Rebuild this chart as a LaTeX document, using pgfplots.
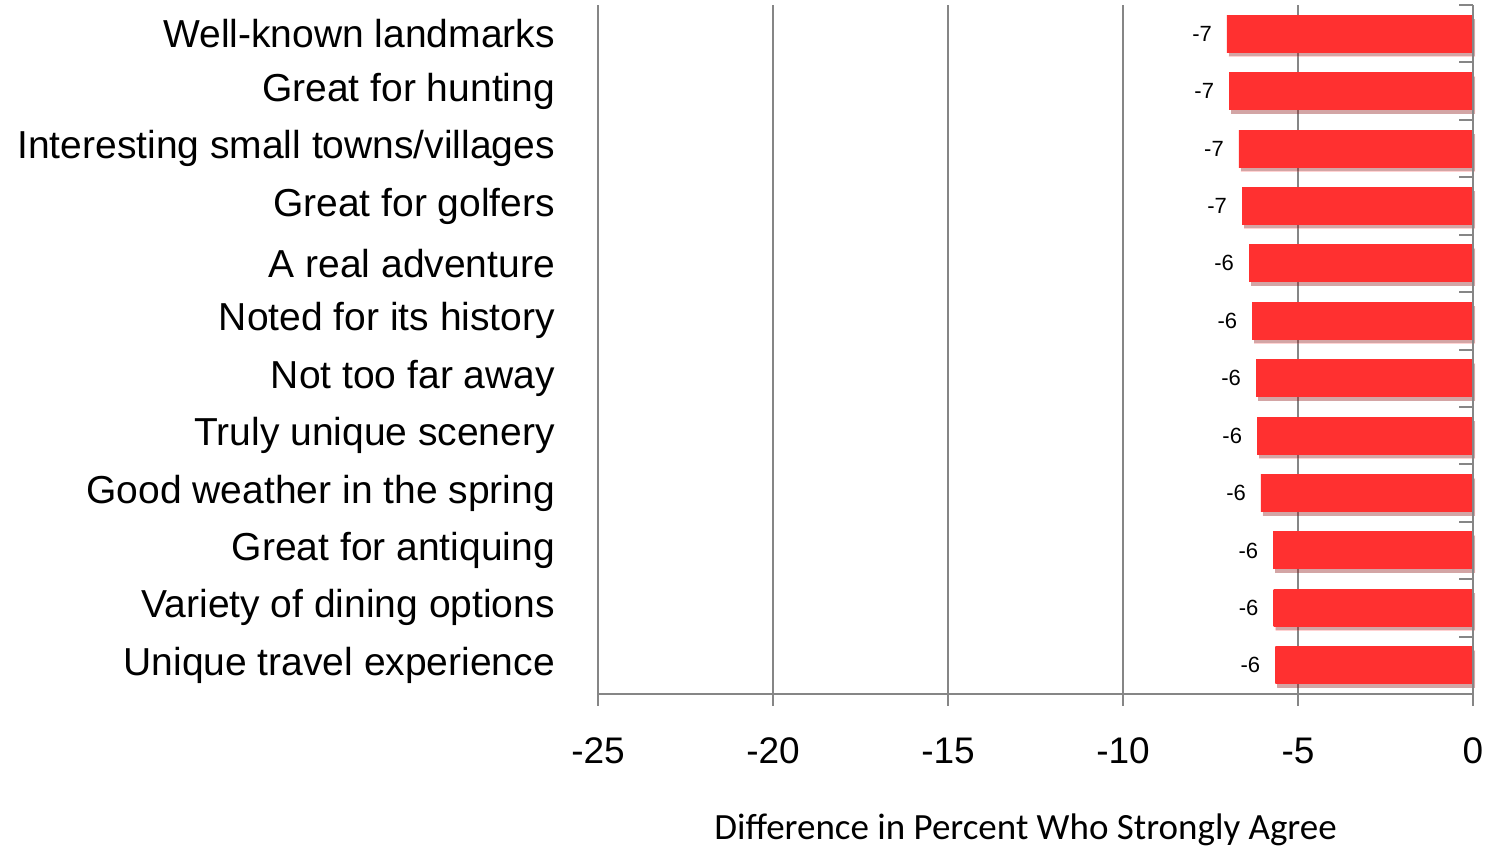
\documentclass[border=0pt]{standalone}
\usepackage{fontspec}
\setmainfont{Liberation Sans}
\newfontfamily\calibri{Carlito}
\usepackage{pgfplots}
\pgfplotsset{compat=1.18}
\usetikzlibrary{shadows}
\definecolor{gridgray}{RGB}{134,134,134}
\definecolor{bartop}{RGB}{255,125,125}
\definecolor{barmid}{RGB}{255,48,48}
\definecolor{barbot}{RGB}{215,36,36}
\pgfdeclareverticalshading{bevel}{100bp}{color(0bp)=(barbot); color(8bp)=(barbot); color(20bp)=(barmid); color(84bp)=(barmid); color(92bp)=(bartop); color(100bp)=(bartop)}
\pgfplotsset{mybar/.style={xbar, bar shift=0pt, bar width=18.5pt, draw=none,
  shading=bevel,
  drop shadow={shadow xshift=1pt, shadow yshift=-2pt, opacity=0.22, fill=black},
  nodes near coords, point meta=explicit symbolic,
  nodes near coords style={font=\fontsize{11}{13}\selectfont, anchor=east, xshift=-4pt, text=black}},
  frame/.style={at={(299pt,77pt)}, anchor=south west,
  width=437.5pt, height=344.5pt, scale only axis,
  xmin=-25, xmax=0, ymin=-0.5, ymax=11.5,
  axis line style={gridgray, line width=1pt},
  tick style={gridgray, line width=1pt}}}
\begin{document}
\begin{tikzpicture}
\begin{axis}[frame,
  axis x line*=bottom, axis y line*=box,
  xtick={-25,-20,-15,-10,-5,0},
  xticklabels={-25,-20,-15,-10,-5,0},
  xmajorgrids, grid style={gridgray, line width=1pt},
  xticklabel style={font=\fontsize{18.5}{22}\selectfont, yshift=-18.5pt},
  ytick={0,...,11},
  yticklabels={Unique travel experience, Variety of dining options, Great for antiquing, Good weather in the spring, Truly unique scenery, Not too far away, Noted for its history~, A real adventure, Great for golfers, Interesting small towns/villages, Great for hunting, Well-known landmarks},
  ytick style={draw=none},
  yticklabel style={font=\fontsize{19.5}{23}\selectfont, xshift=-18pt},
  xlabel={Difference in Percent Who Strongly Agree},
  xlabel style={font=\calibri\fontsize{18.5}{22}\selectfont, at={(axis description cs:0.5,0)}, anchor=center, yshift=-68pt, xshift=-5pt},
  clip=false,
]
\addplot[mybar] coordinates {(-5.65,0) [-6]};
\addplot[mybar] coordinates {(-5.70,1) [-6]};
\addplot[mybar] coordinates {(-5.71,2) [-6]};
\addplot[mybar] coordinates {(-6.06,3) [-6]};
\addplot[mybar] coordinates {(-6.17,4) [-6]};
\addplot[mybar] coordinates {(-6.20,5) [-6]};
\addplot[mybar] coordinates {(-6.31,6) [-6]};
\addplot[mybar] coordinates {(-6.40,7) [-6]};
\addplot[mybar] coordinates {(-6.60,8) [-7]};
\addplot[mybar] coordinates {(-6.69,9) [-7]};
\addplot[mybar] coordinates {(-6.97,10) [-7]};
\addplot[mybar] coordinates {(-7.03,11) [-7]};
\draw[gridgray, line width=1.2pt] (axis cs:-25,-0.5) -- ++(0pt,-6pt);
\draw[gridgray, line width=1.2pt] (axis cs:-20,-0.5) -- ++(0pt,-6pt);
\draw[gridgray, line width=1.2pt] (axis cs:-15,-0.5) -- ++(0pt,-6pt);
\draw[gridgray, line width=1.2pt] (axis cs:-10,-0.5) -- ++(0pt,-6pt);
\draw[gridgray, line width=1.2pt] (axis cs:-5,-0.5) -- ++(0pt,-6pt);
\draw[gridgray, line width=1.2pt] (axis cs:0,-0.5) -- ++(0pt,-6pt);
\end{axis}
\begin{axis}[frame,
  axis x line=none, axis y line*=right,
  ytick={-0.5,0.5,...,11.5}, yticklabels={},
  tick align=inside, major tick length=7pt,
]
\end{axis}
\pgfresetboundingbox
\useasboundingbox (0,0) rectangle (743.5pt,424pt);
\end{tikzpicture}
\end{document}
